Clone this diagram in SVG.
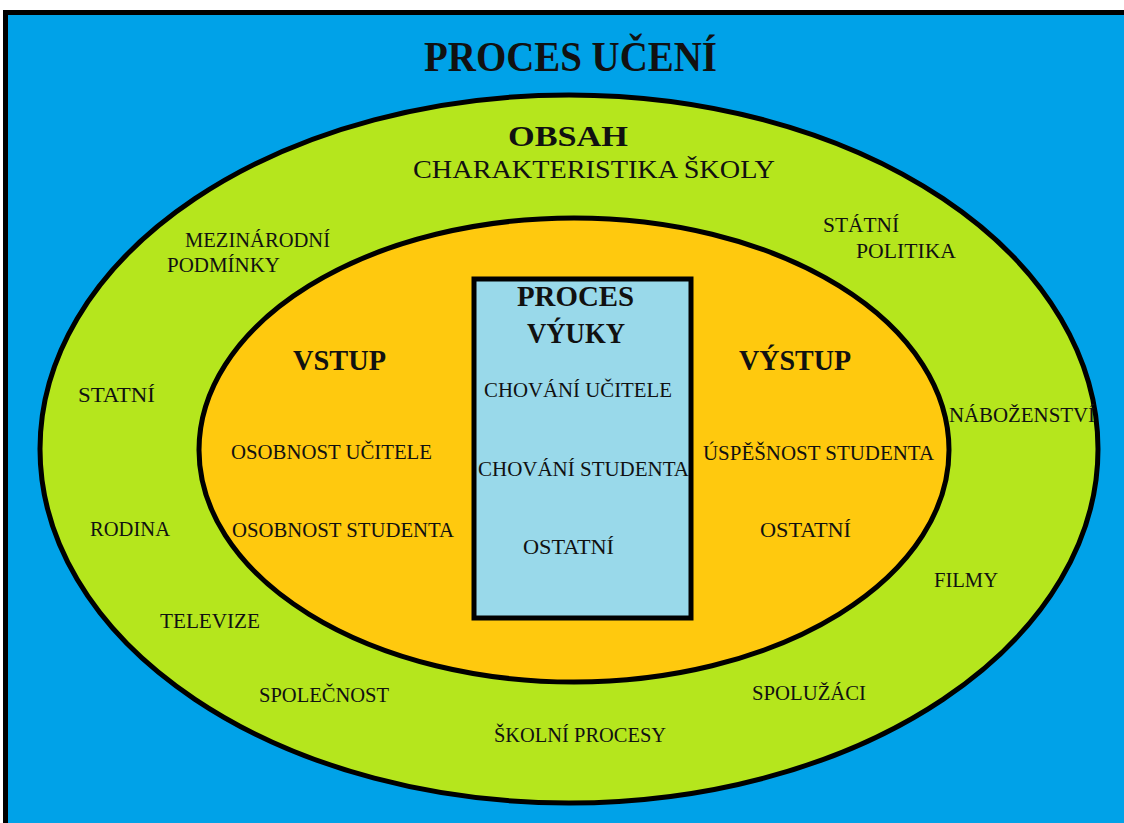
<svg xmlns="http://www.w3.org/2000/svg" width="1124" height="823" viewBox="0 0 1124 823">
<style>
text{font-family:"Liberation Serif","Times New Roman",serif;fill:#111;}
.s{font-size:20px;}
.m{font-size:26px;}
.b{font-size:30px;font-weight:bold;}
.edge{stroke:#000;stroke-width:5;}
</style>
<rect x="0" y="0" width="1124" height="823" fill="#fff"/>
<rect x="5.5" y="12.5" width="1130" height="820" fill="#00A2E8" stroke="#000" stroke-width="5"/>
<g id="title"><text x="424" y="71" font-size="42" font-weight="bold" textLength="293" lengthAdjust="spacingAndGlyphs">PROCES UČENÍ</text></g>
<g id="obsah">
<ellipse cx="569" cy="449" rx="529" ry="354" fill="#B5E61D" class="edge"/>
<text class="b" x="508" y="146" textLength="120" lengthAdjust="spacingAndGlyphs">OBSAH</text>
<text class="m" x="413" y="178" textLength="362" lengthAdjust="spacingAndGlyphs">CHARAKTERISTIKA ŠKOLY</text>
<text class="s" x="185" y="247" textLength="145" lengthAdjust="spacingAndGlyphs">MEZINÁRODNÍ</text>
<text class="s" x="167" y="272" textLength="113" lengthAdjust="spacingAndGlyphs">PODMÍNKY</text>
<text class="s" x="823" y="232" textLength="76" lengthAdjust="spacingAndGlyphs">STÁTNÍ</text>
<text class="s" x="856" y="258" textLength="100" lengthAdjust="spacingAndGlyphs">POLITIKA</text>
<text class="s" x="78" y="402" textLength="77" lengthAdjust="spacingAndGlyphs">STATNÍ</text>
<text class="s" x="949" y="422" textLength="146" lengthAdjust="spacingAndGlyphs">NÁBOŽENSTVÍ</text>
<text class="s" x="90" y="536" textLength="80" lengthAdjust="spacingAndGlyphs">RODINA</text>
<text class="s" x="934" y="587" textLength="64" lengthAdjust="spacingAndGlyphs">FILMY</text>
<text class="s" x="160" y="628" textLength="100" lengthAdjust="spacingAndGlyphs">TELEVIZE</text>
<text class="s" x="259" y="702" textLength="130" lengthAdjust="spacingAndGlyphs">SPOLEČNOST</text>
<text class="s" x="752" y="700" textLength="114" lengthAdjust="spacingAndGlyphs">SPOLUŽÁCI</text>
<text class="s" x="494" y="742" textLength="172" lengthAdjust="spacingAndGlyphs">ŠKOLNÍ PROCESY</text>
</g>
<g id="vstup-vystup">
<ellipse cx="574" cy="450" rx="375" ry="232" fill="#FFC90E" class="edge"/>
<text class="b" x="293" y="370" textLength="93" lengthAdjust="spacingAndGlyphs">VSTUP</text>
<text class="b" x="739" y="370" textLength="112" lengthAdjust="spacingAndGlyphs">VÝSTUP</text>
<text class="s" x="231" y="459" textLength="201" lengthAdjust="spacingAndGlyphs">OSOBNOST UČITELE</text>
<text class="s" x="232" y="537" textLength="222" lengthAdjust="spacingAndGlyphs">OSOBNOST STUDENTA</text>
<text class="s" x="703" y="460" textLength="231" lengthAdjust="spacingAndGlyphs">ÚSPĚŠNOST STUDENTA</text>
<text class="s" x="760" y="537" textLength="91" lengthAdjust="spacingAndGlyphs">OSTATNÍ</text>
</g>
<g id="proces-vyuky">
<rect x="474" y="279" width="217" height="339" fill="#99D9EA" class="edge"/>
<text class="b" x="517" y="306" textLength="117" lengthAdjust="spacingAndGlyphs">PROCES</text>
<text class="b" x="527" y="343" textLength="98" lengthAdjust="spacingAndGlyphs">VÝUKY</text>
<text class="s" x="484" y="397" textLength="188" lengthAdjust="spacingAndGlyphs">CHOVÁNÍ UČITELE</text>
<text class="s" x="478" y="476" textLength="211" lengthAdjust="spacingAndGlyphs">CHOVÁNÍ STUDENTA</text>
<text class="s" x="523" y="554" textLength="91" lengthAdjust="spacingAndGlyphs">OSTATNÍ</text>
</g>
<g id="connectors"/>
</svg>
